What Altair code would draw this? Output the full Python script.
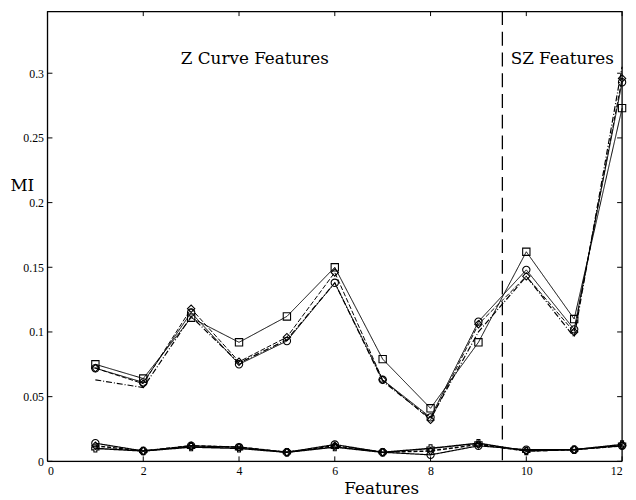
import altair as alt
import pandas as pd

features = list(range(1, 13))

# Upper group (Z-curve / SZ features MI)
mi_square = [0.075, 0.064, 0.111, 0.092, 0.112, 0.150, 0.079, 0.041, 0.092, 0.162, 0.110, 0.273]
mi_circle = [0.072, 0.061, 0.115, 0.075, 0.093, 0.138, 0.063, 0.034, 0.108, 0.148, 0.102, 0.293]
mi_diamond = [0.072, 0.060, 0.118, 0.077, 0.096, 0.146, 0.063, 0.032, 0.106, 0.143, 0.100, 0.296]
mi_plain = [0.063, 0.057, 0.112, 0.076, 0.094, 0.138, 0.062, 0.033, 0.100, 0.143, 0.096, 0.305]

# Lower group
lo_circle = [0.014, 0.008, 0.012, 0.011, 0.007, 0.013, 0.007, 0.005, 0.012, 0.009, 0.009, 0.012]
lo_diamond = [0.012, 0.008, 0.012, 0.011, 0.007, 0.012, 0.007, 0.008, 0.013, 0.008, 0.009, 0.012]
lo_plus = [0.010, 0.008, 0.011, 0.010, 0.007, 0.011, 0.007, 0.010, 0.014, 0.008, 0.009, 0.013]

x_ticks = [0, 2, 4, 6, 8, 10, 12]
y_ticks = [0, 0.05, 0.1, 0.15, 0.2, 0.25, 0.3]
divider = 9.5
annotations = pd.DataFrame({
    "x": [4.33, 10.75],
    "y": [0.311, 0.311],
    "label": ["Z Curve Features", "SZ Features"],
})

W, H = 582, 456
XMAX, YMAX = 12, 0.348
FONT = "Liberation Serif"
TFONT = "DejaVu Serif"

xs = alt.Scale(domain=[0, XMAX], nice=False, zero=False)
ys = alt.Scale(domain=[0, YMAX], nice=False)

xaxis = alt.Axis(values=x_ticks, ticks=False, domain=False, grid=False,
                 title="Features", titleFont=TFONT, titleFontSize=17,
                 titleFontWeight="normal", titleColor="black",
                 titleX=338, titleY=28, titleBaseline="middle", titleAlign="center",
                 labelFont=FONT, labelFontSize=12,
                 labelColor="black", labelPadding=4)
yaxis = alt.Axis(values=y_ticks, ticks=False, domain=False, grid=False,
                 format="~g", title="MI", titleAngle=0,
                 titleFont=TFONT, titleFontSize=17, titleFontWeight="normal",
                 titleColor="black", titleX=-26, titleY=H - 0.213 / YMAX * H,
                 titleBaseline="middle", titleAlign="center",
                 labelFont=FONT, labelFontSize=12, labelColor="black",
                 labelPadding=4)


def X(field):
    return alt.X(field, scale=xs, axis=xaxis)


def Y(field):
    return alt.Y(field, scale=ys, axis=yaxis)


series = [
    (mi_square, "square", [1, 0], 1.0),
    (mi_circle, "circle", [1, 0], 1.0),
    (mi_diamond, "diamond", [5, 2], 1.0),
    (mi_plain, None, [6, 2, 1, 2], 1.2),
    (lo_circle, "circle", [1, 0], 1.2),
    (lo_diamond, "diamond", [4, 2], 1.5),
    (lo_plus, "cross", [1, 0], 1.5),
]

layers = []
for vals, shape, dash, sw in series:
    df = pd.DataFrame({"f": features, "v": vals})
    base = alt.Chart(df).encode(x=X("f:Q"), y=Y("v:Q"))
    layers.append(base.mark_line(color="black", strokeWidth=sw, strokeDash=dash))
    if shape:
        layers.append(base.mark_point(shape=shape, filled=False, color="black", size=55, strokeWidth=1.1, opacity=1))

# vertical dashed divider
layers.append(alt.Chart(pd.DataFrame({"x": [divider]})).mark_rule(color="black", strokeWidth=1.3, strokeDash=[14, 7]).encode(
    x=X("x:Q")))

# inward ticks
xt = pd.DataFrame({"x": x_ticks})
yt = pd.DataFrame({"y": y_ticks})
layers.append(alt.Chart(xt).mark_rule(color="black").encode(
    x=X("x:Q"), y=alt.value(H), y2=alt.value(H - 5)))
layers.append(alt.Chart(xt).mark_rule(color="black").encode(
    x=X("x:Q"), y=alt.value(0), y2=alt.value(5)))
layers.append(alt.Chart(yt).mark_rule(color="black").encode(
    y=Y("y:Q"), x=alt.value(0), x2=alt.value(5)))
layers.append(alt.Chart(yt).mark_rule(color="black").encode(
    y=Y("y:Q"), x=alt.value(W - 5), x2=alt.value(W)))

# frame
frame = pd.DataFrame({"k": [0]})
layers.append(alt.Chart(frame).mark_rule(color="black", strokeWidth=1.3).encode(
    x=alt.value(0), x2=alt.value(W), y=alt.value(0.5)))
layers.append(alt.Chart(frame).mark_rule(color="black", strokeWidth=1.3).encode(
    x=alt.value(0), x2=alt.value(W), y=alt.value(H)))
layers.append(alt.Chart(frame).mark_rule(color="black", strokeWidth=1.3).encode(
    y=alt.value(0), y2=alt.value(H), x=alt.value(0)))
layers.append(alt.Chart(frame).mark_rule(color="black", strokeWidth=1.3).encode(
    y=alt.value(0), y2=alt.value(H), x=alt.value(W)))

# annotations
layers.append(alt.Chart(annotations).mark_text(font=TFONT, fontSize=17, color="black").encode(
    x=X("x:Q"), y=Y("y:Q"), text="label:N"))

chart = alt.layer(*layers).properties(
    width=W, height=H,
    autosize=alt.AutoSizeParams(type="none"),
    padding={"left": 40, "top": 0, "right": 6, "bottom": 36},
).configure_view(stroke=None).configure(background="white")

chart.save("out.html", embed_options={"renderer": "svg", "actions": False})
